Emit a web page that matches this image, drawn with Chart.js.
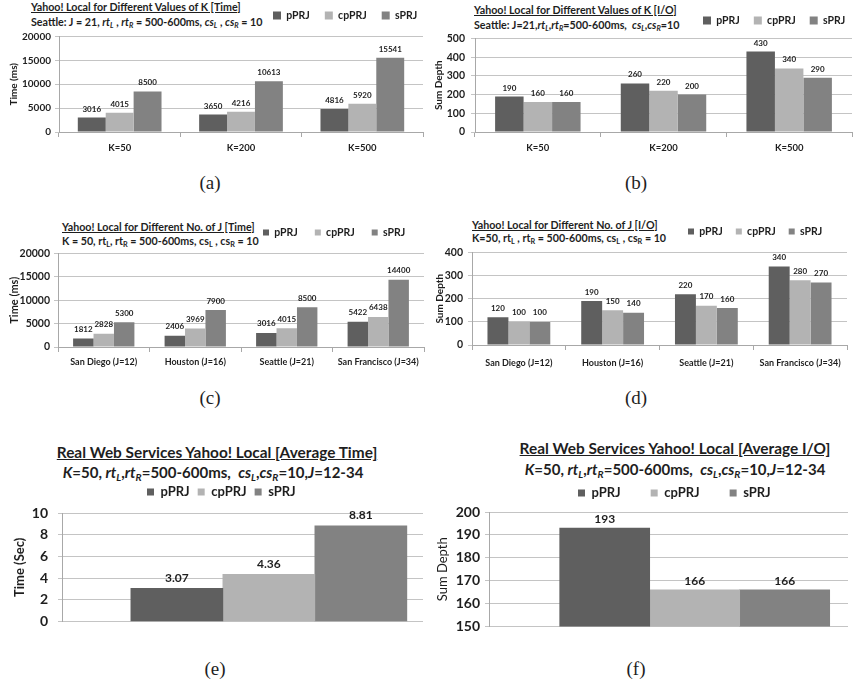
<!DOCTYPE html>
<html>
<head>
<meta charset="utf-8">
<script src="https://cdn.jsdelivr.net/npm/chart.js@4.4.1/dist/chart.umd.min.js"></script>
<style>
  body { margin: 0; background: #fff; }
  #page { position: relative; width: 857px; height: 691px; overflow: hidden; font-family: Lato, 'Open Sans', sans-serif; color: #1e1e1e; }
  #page canvas { position: absolute; }
  .t { position: absolute; white-space: nowrap; font-weight: bold; }
  .ttl { text-decoration: underline; }
  .ctr { width: 400px; text-align: center; }
  .t sub { font-size: 68%; vertical-align: -0.3em; line-height: 0; }
  .cap { position: absolute; width: 40px; text-align: center; font-family: 'Liberation Serif', 'DejaVu Serif', serif; font-size: 19px; line-height: 22px; }
</style>
</head>
<body>
<div id="page">
  <div class="t ttl" style="left:31px;top:1px;font-size:10.7px;line-height:12px">Yahoo! Local for Different Values of K [Time]</div>
  <div class="t" style="left:31px;top:16px;font-size:10.7px;line-height:12px">Seattle: J = 21, <i>rt<sub>L</sub></i> , <i>rt<sub>R</sub></i> = 500-600ms, <i>cs<sub>L</sub></i> , <i>cs<sub>R</sub></i> = 10</div>

  <div class="t ttl" style="left:474px;top:4px;font-size:10.7px;line-height:12px">Yahoo! Local for Different Values of K [I/O]</div>
  <div class="t" style="left:474px;top:19px;font-size:10.7px;line-height:12px">Seattle: J=21,<i>rt<sub>L</sub></i>,<i>rt<sub>R</sub></i>=500-600ms,&nbsp; <i>cs<sub>L</sub></i>,<i>cs<sub>R</sub></i>=10</div>

  <div class="t ttl" style="left:62px;top:221px;font-size:10.7px;line-height:12px">Yahoo! Local for Different No. of J [Time]</div>
  <div class="t" style="left:62px;top:235px;font-size:10.7px;line-height:12px">K = 50, rt<sub>L</sub>, rt<sub>R</sub> = 500-600ms, cs<sub>L</sub> , cs<sub>R</sub> = 10</div>

  <div class="t ttl" style="left:472px;top:219px;font-size:10.7px;line-height:12px">Yahoo! Local for Different No. of J [I/O]</div>
  <div class="t" style="left:472px;top:232px;font-size:10.7px;line-height:12px">K=50, rt<sub>L</sub> , rt<sub>R</sub> = 500-600ms, cs<sub>L</sub> , cs<sub>R</sub> = 10</div>

  <div class="t ttl ctr" style="left:17px;top:443px;font-size:15.4px;line-height:18px">Real Web Services Yahoo! Local [Average Time]</div>
  <div class="t ctr" style="left:13px;top:463px;font-size:15px;line-height:18px"><i>K</i>=50, <i>rt<sub>L</sub></i>,<i>rt<sub>R</sub></i>=500-600ms,&nbsp; <i>cs<sub>L</sub></i>,<i>cs<sub>R</sub></i>=10,<i>J</i>=12-34</div>

  <div class="t ttl ctr" style="left:475px;top:439px;font-size:15.4px;line-height:18px">Real Web Services Yahoo! Local [Average I/O]</div>
  <div class="t ctr" style="left:475px;top:460px;font-size:15px;line-height:18px"><i>K</i>=50, <i>rt<sub>L</sub></i>,<i>rt<sub>R</sub></i>=500-600ms,&nbsp; <i>cs<sub>L</sub></i>,<i>cs<sub>R</sub></i>=10,<i>J</i>=12-34</div>

  <div class="cap" style="left:190px;top:172px">(a)</div>
  <div class="cap" style="left:616px;top:172px">(b)</div>
  <div class="cap" style="left:190px;top:387px">(c)</div>
  <div class="cap" style="left:616px;top:387px">(d)</div>
  <div class="cap" style="left:195px;top:658px">(e)</div>
  <div class="cap" style="left:616px;top:658px">(f)</div>
</div>
<script>
Chart.defaults.font.family = "Lato, 'Open Sans', sans-serif";
Chart.defaults.color = '#1e1e1e';

const seriesNames = ['pPRJ', 'cpPRJ', 'sPRJ'];

// (a) / (b): Seattle, different K
const kLabels = ['K=50', 'K=200', 'K=500'];
const kTimePPRJ = [3016, 3650, 4816];
const kTimeCPPRJ = [4015, 4216, 5920];
const kTimeSPRJ = [8500, 10613, 15541];
const kIoPPRJ = [190, 260, 430];
const kIoCPPRJ = [160, 220, 340];
const kIoSPRJ = [160, 200, 290];

// (c) / (d): different J
const cityLabels = ['San Diego (J=12)', 'Houston (J=16)', 'Seattle (J=21)', 'San Francisco (J=34)'];
const jTimePPRJ = [1812, 2406, 3016, 5422];
const jTimeCPPRJ = [2828, 3969, 4015, 6438];
const jTimeSPRJ = [5300, 7900, 8500, 14400];
const jIoPPRJ = [120, 190, 220, 340];
const jIoCPPRJ = [100, 150, 170, 280];
const jIoSPRJ = [100, 140, 160, 270];

// (e) / (f): averages, in pPRJ, cpPRJ, sPRJ order
const avgTimeSec = [3.07, 4.36, 8.81];
const avgIo = [193, 166, 166];

// y tick labels
const timeMsTicks = [0, 5000, 10000, 15000, 20000];
const kIoTicks = [0, 100, 200, 300, 400, 500];
const jIoTicks = [0, 100, 200, 300, 400];
const avgTimeTicks = [0, 2, 4, 6, 8, 10];
const avgIoTicks = [150, 160, 170, 180, 190, 200];

const seriesColors = ['#5f5f5f', '#b3b3b3', '#828282'];
const gridCol = '#c4c4c4';
const axisCol = '#a8a8a8';

function grouped(p, cp, s) {
  return [p, cp, s].map((d, i) => ({
    label: seriesNames[i], data: d, backgroundColor: seriesColors[i], borderWidth: 0
  }));
}
function single(vals) {
  return vals.map((v, i) => ({
    label: seriesNames[i], data: [{ x: 0, y: v }], backgroundColor: seriesColors[i], borderWidth: 0
  }));
}

// moves the legend row to where the original has it
const legendShift = {
  id: 'legendShift',
  afterLayout(chart, args, o) {
    const l = chart.legend;
    const pad = l.options.labels.padding;
    const dx = o.x - (l.left + pad);
    const dy = o.y - (l.top + pad + o.itemH / 2);
    l.left += dx; l.right += dx;
    l.top += dy; l.bottom += dy;
  }
};

// numbers above the bars
const valueLabels = {
  id: 'valueLabels',
  afterDatasetsDraw(chart, args, o) {
    const ctx = chart.ctx;
    ctx.save();
    ctx.font = 'bold ' + o.size + "px Lato, 'Open Sans', sans-serif";
    ctx.fillStyle = '#1e1e1e';
    ctx.textAlign = 'center';
    ctx.textBaseline = 'middle';
    chart.data.datasets.forEach((ds, i) => {
      chart.getDatasetMeta(i).data.forEach((bar, j) => {
        const v = ds.data[j];
        ctx.fillText(String(typeof v === 'object' ? v.y : v), bar.x, bar.y - o.gap);
      });
    });
    ctx.restore();
  }
};

function panel(p) {
  const [L, T, R, B] = p.area;
  const lg = p.legend;
  const itemH = Math.max(lg.size, lg.box);
  const legendH = itemH + lg.pad + 10;
  const cl = p.left, cw = p.width;
  const ct = T - legendH - 4;
  const ch = B - ct + p.xH + 4;
  const pad = { left: 2, right: cl + cw - R, top: 4, bottom: 4 };
  const yW = L - cl - pad.left;
  const tLH = p.yTitleSize * 1.2;

  const cv = document.createElement('canvas');
  cv.width = cw; cv.height = ch;
  cv.style.left = cl + 'px'; cv.style.top = ct + 'px';
  document.getElementById('page').appendChild(cv);

  const ticks = p.yTicks;
  const xScale = p.avg
    ? { type: 'linear', display: false, offset: false, min: -p.shift, max: 1 - p.shift }
    : {
        grid: { drawOnChartArea: false, tickLength: 5, color: axisCol },
        border: { color: axisCol },
        ticks: { font: { size: p.xFont, weight: 'bold' }, padding: p.xPad, maxRotation: 0, autoSkip: false },
        afterFit: s => { s.height = p.xH; }
      };

  const barOpts = { categoryPercentage: p.catPct || 0.8, barPercentage: 1 };
  if (p.barThickness) barOpts.barThickness = p.barThickness;

  new Chart(cv, {
    type: 'bar',
    data: { labels: p.labels, datasets: p.datasets },
    options: {
      responsive: false,
      animation: false,
      layout: { padding: pad },
      datasets: { bar: barOpts },
      scales: {
        x: xScale,
        y: {
          min: ticks[0],
          max: ticks[ticks.length - 1],
          ticks: {
            stepSize: ticks[1] - ticks[0],
            padding: p.yGap - 4,
            font: { size: p.yFont, weight: 'bold' },
            callback: v => String(v)
          },
          grid: { color: gridCol, tickLength: 4 },
          border: { color: axisCol },
          title: {
            display: true,
            text: p.yTitle,
            font: { size: p.yTitleSize, weight: p.yTitleWeight || 'bold' },
            padding: { top: p.yTitleX - cl - pad.left - tLH / 2, bottom: 0 }
          },
          afterFit: s => { s.width = yW; }
        }
      },
      plugins: {
        legend: {
          align: 'start',
          labels: {
            boxWidth: lg.box, boxHeight: lg.box, padding: lg.pad,
            font: { size: lg.size, weight: 'bold' }, color: '#1e1e1e'
          }
        },
        tooltip: { enabled: false },
        legendShift: { x: lg.x - cl, y: lg.y - ct, itemH: itemH },
        valueLabels: { size: p.valSize, gap: p.valGap }
      }
    },
    plugins: [legendShift, valueLabels]
  });
}

// (a)
panel({
  left: 0, width: 430, area: [59, 36, 423, 132], xH: 24, xFont: 9.5, xPad: 5,
  labels: kLabels, datasets: grouped(kTimePPRJ, kTimeCPPRJ, kTimeSPRJ), catPct: 0.69,
  yTicks: timeMsTicks, yFont: 10, yGap: 8, yTitle: 'Time (ms)', yTitleSize: 10, yTitleX: 14,
  legend: { size: 10.5, box: 8, pad: 15, x: 273, y: 15 }, valSize: 8, valGap: 8.5
});
// (b)
panel({
  left: 425, width: 432, area: [475, 38, 852, 132], xH: 24, xFont: 9.5, xPad: 5,
  labels: kLabels, datasets: grouped(kIoPPRJ, kIoCPPRJ, kIoSPRJ), catPct: 0.68,
  yTicks: kIoTicks, yFont: 10.5, yGap: 10, yTitle: 'Sum Depth', yTitleSize: 10, yTitleX: 439,
  legend: { size: 10.5, box: 8, pad: 14, x: 703, y: 20 }, valSize: 8, valGap: 8.5
});
// (c)
panel({
  left: 0, width: 428, area: [58, 253, 424, 347], xH: 26, xFont: 9, xPad: 5,
  labels: cityLabels, datasets: grouped(jTimePPRJ, jTimeCPPRJ, jTimeSPRJ), catPct: 0.67,
  yTicks: timeMsTicks, yFont: 10.5, yGap: 8, yTitle: 'Time (ms)', yTitleSize: 11, yTitleX: 14,
  legend: { size: 10.5, box: 6, pad: 17, x: 263, y: 232 }, valSize: 8, valGap: 9
});
// (d)
panel({
  left: 425, width: 432, area: [472, 252, 847, 345], xH: 28, xFont: 9, xPad: 7.5,
  labels: cityLabels, datasets: grouped(jIoPPRJ, jIoCPPRJ, jIoSPRJ), catPct: 0.67,
  yTicks: jIoTicks, yFont: 10.5, yGap: 9, yTitle: 'Sum Depth', yTitleSize: 10, yTitleX: 440,
  legend: { size: 10.5, box: 6, pad: 13, x: 688, y: 231 }, valSize: 8, valGap: 9
});
// (e)
panel({
  left: 0, width: 430, area: [62, 513, 423, 636], xH: 0, avg: true, shift: 0.573, barThickness: 92,
  labels: [], datasets: single(avgTimeSec),
  yTicks: avgTimeTicks, yFont: 14, yGap: 14, yTitle: 'Time (Sec)', yTitleSize: 13, yTitleX: 20,
  legend: { size: 13, box: 7, pad: 8, x: 147, y: 492 }, valSize: 12, valGap: 10.5
});
// (f)
panel({
  left: 430, width: 427, area: [489, 512, 848, 636], xH: 0, avg: true, shift: 0.573, barThickness: 90,
  labels: [], datasets: single(avgIo),
  yTicks: avgIoTicks, yFont: 14, yGap: 9, yTitle: 'Sum Depth', yTitleSize: 13, yTitleWeight: 'normal', yTitleX: 443,
  legend: { size: 13, box: 7, pad: 30, x: 578, y: 493 }, valSize: 12, valGap: 9
});
</script>
</body>
</html>
